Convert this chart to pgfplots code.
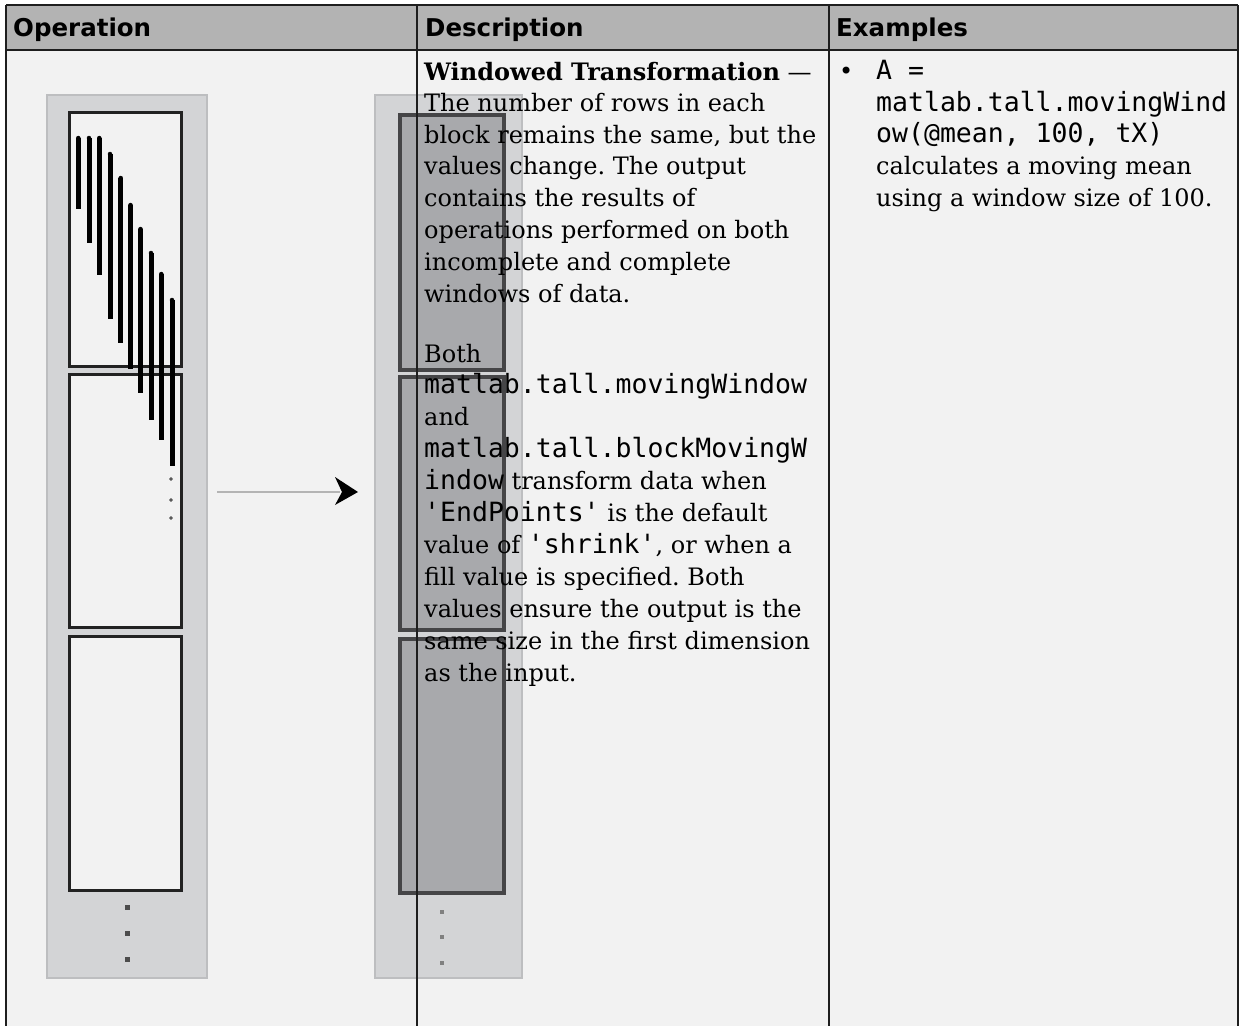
\documentclass[border=0pt]{standalone}
\usepackage{fontspec}
\setmainfont{DejaVu Serif}
\setsansfont{DejaVu Sans}
\setmonofont{DejaVu Sans Mono}
\usepackage{pgfplots}
\pgfplotsset{compat=1.18}
\usepackage{pgfplotstable}
\frenchspacing

\definecolor{headgray}{HTML}{B3B3B3}
\definecolor{bodygray}{HTML}{F2F2F2}
\definecolor{panelgray}{HTML}{D3D4D6}
\definecolor{panelline}{HTML}{BDBEC0}
\definecolor{boxline}{HTML}{222222}
\definecolor{blockfill}{HTML}{A8A9AC}
\definecolor{blockline}{HTML}{454547}
\definecolor{arrowgray}{HTML}{B4B4B4}
\definecolor{rule}{HTML}{1E1E1E}

\newcommand{\bodyfont}{\fontsize{24}{32}\selectfont}
\newcommand{\code}[1]{{\ttfamily\fontsize{26.5}{32}\selectfont #1}}
\newcommand{\tl}[3]{\node[anchor=base west, inner sep=0pt, font=\bodyfont] at (axis cs:#1,#2) {#3};}

% window bars: x, top, length (pixels of the screenshot)
\pgfplotstableread{
x     top  len
78.3  138  71
89.0  138  105
99.3  138  137
110.0 154  165
120.7 178  165
130.5 205  164
140.5 229  164
151.0 253  167
161.3 274  166
172.0 300  166
}\bars

\begin{document}
\begin{tikzpicture}
\begin{axis}[
    width=1243pt, height=1026pt, scale only axis,
    xmin=0, xmax=1243, ymin=0, ymax=1026,
    y dir=reverse, hide axis,
]
% backgrounds
\addplot[fill=white, draw=none] coordinates {(0,0) (1243,0) (1243,1026) (0,1026)} -- cycle;
\addplot[fill=bodygray, draw=none] coordinates {(6,5) (1238,5) (1238,1026) (6,1026)} -- cycle;
\addplot[fill=headgray, draw=none] coordinates {(6,5) (1238,5) (1238,50) (6,50)} -- cycle;

% left picture: input blocks
\addplot[fill=panelgray, draw=panelline, line width=1.5pt] coordinates {(47,95) (207,95) (207,978) (47,978)} -- cycle;
\addplot[fill=bodygray, draw=boxline, line width=3pt] coordinates {(69,112) (181,112) (181,366) (69,366)} -- cycle;
\addplot[fill=bodygray, draw=boxline, line width=3pt] coordinates {(69,374) (181,374) (181,627) (69,627)} -- cycle;
\addplot[fill=bodygray, draw=boxline, line width=3pt] coordinates {(69,636) (181,636) (181,890) (69,890)} -- cycle;
\addplot[only marks, mark=none, error bars/.cd, y dir=plus, y explicit, error mark=none,
    error bar style={line width=5pt, black}] table[x=x, y=top, y error=len] {\bars};
\addplot[only marks, mark=*, mark size=1.6pt, color=black!65] coordinates {(171,479) (171,500) (171,518)};
\addplot[only marks, mark=square*, mark size=1.8pt, color=black!70] coordinates {(127,907) (127,933) (127,959)};

% arrow
\addplot[arrowgray, line width=2.5pt] coordinates {(217,492) (340,492)};
\addplot[fill=black, draw=none] coordinates {(335,477) (358,492) (335,505) (342,492)} -- cycle;

% right picture: output blocks
\addplot[fill=panelgray, draw=panelline, line width=1.5pt] coordinates {(375,95) (522,95) (522,978) (375,978)} -- cycle;
\addplot[fill=blockfill, draw=blockline, line width=3.5pt] coordinates {(400,115) (504,115) (504,370) (400,370)} -- cycle;
\addplot[fill=blockfill, draw=blockline, line width=3.5pt] coordinates {(400,377) (504,377) (504,630) (400,630)} -- cycle;
\addplot[fill=blockfill, draw=blockline, line width=3.5pt] coordinates {(400,639) (504,639) (504,893) (400,893)} -- cycle;
\addplot[only marks, mark=square*, mark size=1.6pt, color=black!50] coordinates {(442,912) (442,937) (442,963)};

% table rules
\addplot[rule, line width=2.5pt] coordinates {(6,5) (1238,5)};
\addplot[rule, line width=2pt] coordinates {(6,50) (1238,50)};
\addplot[rule, line width=1.5pt] coordinates {(6,5) (6,1026)};
\addplot[rule, line width=1.5pt] coordinates {(417,5) (417,1026)};
\addplot[rule, line width=1.5pt] coordinates {(829,5) (829,1026)};
\addplot[rule, line width=1.5pt] coordinates {(1238,5) (1238,1026)};

% header
\node[anchor=base west, inner sep=0pt, font=\sffamily\bfseries\fontsize{24.5}{28}\selectfont] at (axis cs:13,36) {Operation};
\node[anchor=base west, inner sep=0pt, font=\sffamily\bfseries\fontsize{24.5}{28}\selectfont] at (axis cs:425,36) {Description};
\node[anchor=base west, inner sep=0pt, font=\sffamily\bfseries\fontsize{24.5}{28}\selectfont] at (axis cs:836,36) {Examples};

% description
\tl{424}{80}{\textbf{Windowed Transformation} —}
\tl{424}{111}{The number of rows in each}
\tl{424}{143}{block remains the same, but the}
\tl{424}{174.5}{values change. The output}
\tl{424}{206.5}{contains the results of}
\tl{424}{238}{operations performed on both}
\tl{424}{270}{incomplete and complete}
\tl{424}{302}{windows of data.}
\tl{424}{362}{Both}
\tl{424}{393.5}{\code{matlab.tall.movingWindow}}
\tl{424}{425}{and}
\tl{424}{457}{\code{matlab.tall.blockMovingW}}
\tl{424}{489}{\code{indow} transform data when}
\tl{424}{521}{\code{'EndPoints'} is the default}
\tl{424}{553}{value of \code{'shrink'}, or when a}
\tl{424}{585}{fill value is specified. Both}
\tl{424}{617}{values ensure the output is the}
\tl{424}{649}{same size in the first dimension}
\tl{424}{681}{as the input.}

% examples
\tl{839}{79}{•}
\tl{876}{79}{\code{A =}}
\tl{876}{111}{\code{matlab.tall.movingWind}}
\tl{876}{142}{\code{ow(@mean, 100, tX)}}
\tl{876}{174}{calculates a moving mean}
\tl{876}{206}{using a window size of 100.}
\end{axis}
\end{tikzpicture}
\end{document}
